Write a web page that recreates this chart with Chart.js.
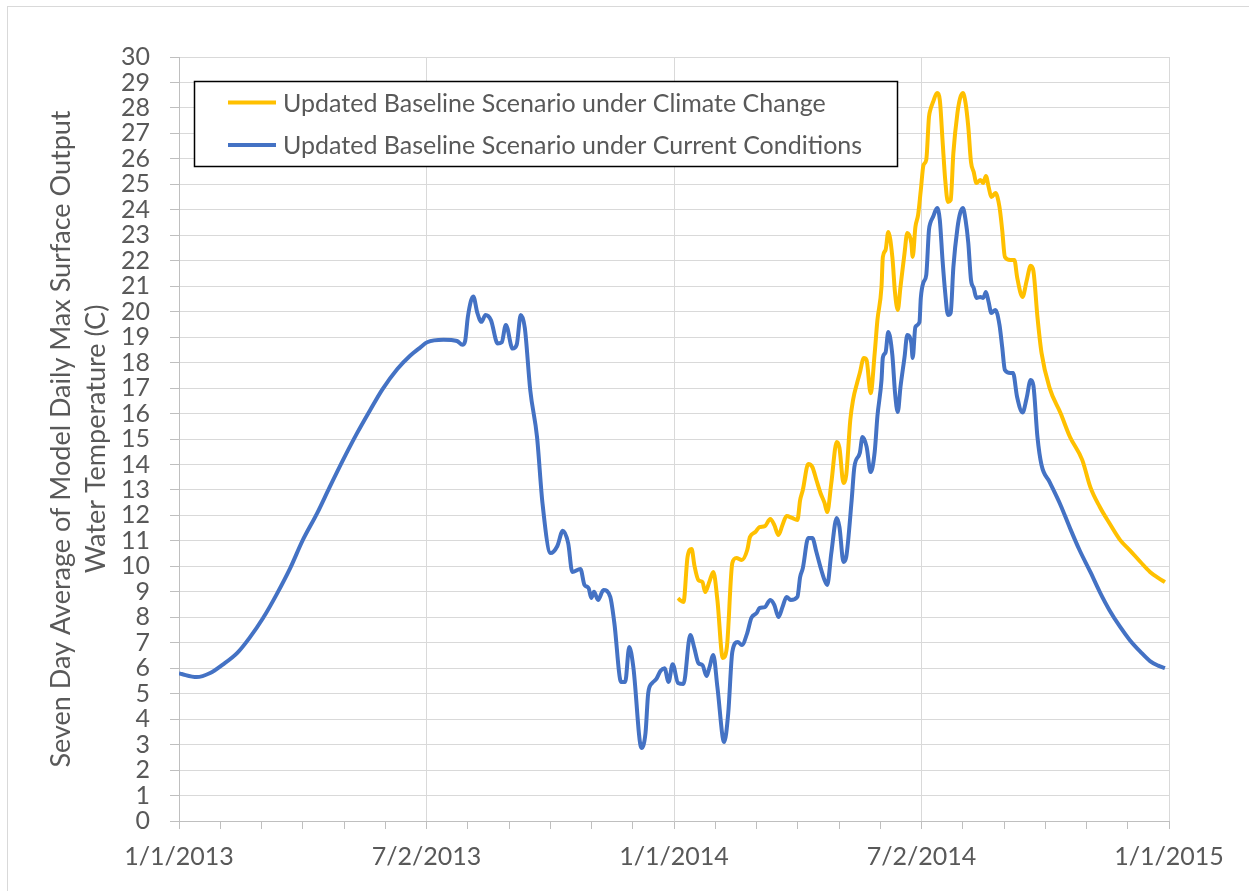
<!DOCTYPE html>
<html>
<head>
<meta charset="utf-8">
<script src="https://cdn.jsdelivr.net/npm/chart.js@4.4.1/dist/chart.umd.min.js"></script>
<style>
  html, body { margin: 0; padding: 0; background: #fff; }
  #wrap { position: relative; width: 1249px; height: 891px; }
</style>
</head>
<body>
<div id="wrap"><canvas id="chart" width="1249" height="891"></canvas></div>
<script>
// dias desde 1/1/2013 (eixo x) e temperaturas
const xTickLabels = ['1/1/2013', '7/2/2013', '1/1/2014', '7/2/2014', '1/1/2015'];
const axisDays = 730;

const currentDays = [0, 2, 13, 23, 32, 43, 52, 62, 72, 82, 91, 102, 111, 121, 131, 141, 150, 161, 170, 178,
  183, 195, 205, 209, 211, 213, 217, 220, 223, 226, 230, 235, 238, 241, 246, 249, 252, 255, 259, 264,
  268, 274, 279, 283, 287, 290, 296, 299, 302, 304, 306, 309, 313, 318, 321, 326, 329, 332, 335, 341,
  344, 346, 349, 352, 355, 358, 361, 364, 368, 372, 377, 380, 383, 386, 389, 391, 394, 397, 402, 405,
  408, 412, 415, 419, 422, 426, 428, 432, 436, 439, 442, 445, 448, 451, 456, 458, 460, 464, 467, 470,
  473, 476, 478, 481, 485, 487, 490, 492, 496, 498, 502, 504, 507, 510, 513, 515, 518, 519, 521, 523,
  526, 528, 530, 532, 535, 537, 540, 541, 543, 546, 547, 549, 551, 553, 554, 556, 559, 561, 563, 565,
  567, 569, 571, 574, 576, 578, 580, 582, 584, 586, 588, 591, 593, 595, 597, 599, 602, 605, 607, 609,
  613, 615, 618, 622, 625, 628, 630, 633, 636, 642, 650, 657, 664, 672, 679, 686, 694, 701, 709, 716,
  722, 727];
const currentTemp = [5.8, 5.77, 5.65, 5.81, 6.13, 6.6, 7.19, 7.97, 8.9, 9.93, 11.0, 12.1, 13.1, 14.18, 15.2, 16.14, 16.95, 17.75, 18.25, 18.6,
  18.8, 18.9, 18.85, 18.7, 18.85, 19.8, 20.6, 19.95, 19.6, 19.87, 19.67, 18.75, 18.8, 19.48, 18.55, 18.7, 19.87, 19.36, 16.92, 15.08,
  12.49, 10.52, 10.8, 11.4, 10.9, 9.78, 9.9, 9.27, 9.15, 8.76, 9.0, 8.68, 9.07, 8.8, 7.78, 5.46, 5.46, 6.83, 6.05, 2.87,
  3.46, 5.03, 5.42, 5.58, 5.89, 6.0, 5.46, 6.16, 5.42, 5.38, 7.3, 6.79, 6.2, 6.12, 5.69, 6.0, 6.52, 5.26, 3.1, 4.24,
  6.64, 7.03, 6.91, 7.38, 7.97, 8.17, 8.36, 8.4, 8.68, 8.48, 8.01, 8.4, 8.8, 8.68, 8.8, 9.58, 9.93, 11.11, 11.11, 10.56,
  9.97, 9.46, 9.27, 10.52, 11.9, 11.54, 10.17, 10.37, 12.6, 13.9, 14.45, 15.08, 14.7, 13.7, 14.5, 15.9, 17.3, 18.2, 18.4, 19.2,
  18.3, 16.8, 16.06, 17.04, 18.22, 19.08, 18.77, 18.18, 19.4, 19.59, 20.54, 21.16, 21.44, 23.21, 23.48, 23.72, 24.07, 23.6, 22.03, 20.73,
  19.87, 19.95, 21.75, 23.28, 23.87, 24.07, 23.6, 22.7, 21.24, 20.93, 20.54, 20.58, 20.54, 20.77, 20.38, 19.95, 20.07, 19.48, 18.61, 17.71,
  17.59, 17.59, 16.65, 16.04, 16.6, 17.32, 17.1, 15.08, 13.98, 13.31, 12.41, 11.5, 10.64, 9.78, 8.99, 8.29, 7.62, 7.11, 6.64, 6.28,
  6.1, 6.0];

const climateDays = [368, 370, 372, 375, 378, 380, 383, 386, 388, 391, 394, 397, 401, 404, 408, 411, 415, 419, 421, 425,
  428, 432, 436, 439, 442, 445, 448, 452, 456, 458, 460, 464, 467, 470, 473, 476, 478, 481, 485, 487,
  490, 492, 495, 497, 500, 502, 505, 507, 510, 513, 515, 518, 519, 521, 523, 526, 528, 530, 532, 535,
  537, 540, 541, 543, 545, 547, 549, 551, 553, 554, 556, 559, 561, 563, 565, 567, 569, 571, 574, 576,
  578, 580, 582, 584, 586, 588, 591, 593, 595, 597, 599, 602, 605, 607, 609, 613, 616, 618, 622, 625,
  628, 630, 633, 636, 642, 650, 657, 666, 672, 679, 686, 694, 701, 709, 716, 722, 727];
const climateTemp = [8.75, 8.65, 8.6, 10.37, 10.68, 10.05, 9.46, 9.38, 8.99, 9.38, 9.78, 8.68, 6.4, 6.83, 10.13, 10.33, 10.25, 10.64, 11.15, 11.35,
  11.54, 11.58, 11.86, 11.62, 11.23, 11.62, 11.98, 11.9, 11.82, 12.6, 13.0, 14.02, 13.9, 13.39, 12.88, 12.49, 12.13, 13.27, 14.88, 14.65,
  13.27, 13.59, 15.75, 16.53, 17.2, 17.59, 18.18, 18.1, 16.8, 18.38, 19.67, 20.97, 22.15, 22.42, 23.13, 22.15, 20.73, 20.07, 20.97, 22.3,
  23.09, 22.7, 22.15, 23.32, 23.8, 24.78, 25.76, 25.96, 27.64, 27.92, 28.23, 28.59, 28.31, 26.74, 25.17, 24.31, 24.38, 26.23, 27.8, 28.39,
  28.59, 28.19, 27.25, 25.88, 25.48, 25.05, 25.17, 25.05, 25.33, 24.9, 24.5, 24.66, 24.11, 23.21, 22.15, 22.03, 22.03, 21.36, 20.58, 21.2,
  21.8, 21.6, 19.79, 18.38, 17.0, 16.02, 15.08, 14.18, 13.11, 12.33, 11.7, 11.03, 10.64, 10.17, 9.78, 9.55, 9.38];

const seriesNames = ['Updated Baseline Scenario under Climate Change', 'Updated Baseline Scenario under Current Conditions'];
const seriesColors = ['#FFC000', '#4472C4'];

const FONT = 'Lato, "Open Sans", sans-serif';
const TEXT_COLOR = '#595959';
const GRID = '#d9d9d9';

function toPoints(days, temps) {
    return days.map((d, i) => ({ x: d, y: temps[i] }));
}

// moldura e legenda desenhadas a mao (a legenda fica dentro da area do grafico)
const framePlugin = {
    id: 'frame',
    beforeDraw(chart) {
        const ctx = chart.ctx;
        ctx.save();
        ctx.strokeStyle = GRID;
        ctx.lineWidth = 1;
        ctx.strokeRect(7.5, 6.5, 1400, 1000);
        ctx.restore();
    },
    afterDatasetsDraw(chart) {
        const ctx = chart.ctx;
        ctx.save();
        ctx.fillStyle = '#fff';
        ctx.fillRect(194, 81, 704, 86);
        ctx.strokeStyle = '#000';
        ctx.lineWidth = 1.5;
        ctx.strokeRect(194.5, 81.5, 703, 85);
        const rows = [102.5, 145];
        chart.data.datasets.forEach((ds, i) => {
            ctx.strokeStyle = ds.borderColor;
            ctx.lineWidth = 4;
            ctx.beginPath();
            ctx.moveTo(228, rows[i]);
            ctx.lineTo(276, rows[i]);
            ctx.stroke();
            ctx.fillStyle = TEXT_COLOR;
            ctx.font = '25px ' + FONT;
            ctx.textBaseline = 'middle';
            ctx.fillText(ds.label, 283, rows[i] + 1);
        });
        ctx.restore();
    }
};

const ctx = document.getElementById('chart').getContext('2d');
new Chart(ctx, {
    type: 'line',
    data: {
        datasets: [
            {
                label: seriesNames[0],
                data: toPoints(climateDays, climateTemp),
                borderColor: seriesColors[0],
                borderWidth: 4,
                pointRadius: 0,
                cubicInterpolationMode: 'monotone',
                fill: false
            },
            {
                label: seriesNames[1],
                data: toPoints(currentDays, currentTemp),
                borderColor: seriesColors[1],
                borderWidth: 4,
                pointRadius: 0,
                cubicInterpolationMode: 'monotone',
                fill: false
            }
        ]
    },
    options: {
        responsive: false,
        animation: false,
        layout: { padding: { left: 0, right: 80, top: 57, bottom: 0 } },
        plugins: {
            legend: { display: false },
            tooltip: { enabled: false }
        },
        scales: {
            x: {
                type: 'linear',
                min: 0,
                max: axisDays,
                afterBuildTicks: (scale) => {
                    const ticks = [];
                    for (let i = 0; i <= 24; i++) ticks.push({ value: i * axisDays / 24 });
                    scale.ticks = ticks;
                },
                afterFit: (scale) => { scale.height = 70; },
                ticks: {
                    autoSkip: false,
                    maxRotation: 0,
                    padding: 13,
                    color: TEXT_COLOR,
                    font: { family: FONT, size: 25 },
                    callback: (value, index) => index % 6 === 0 ? xTickLabels[index / 6] : ''
                },
                grid: {
                    color: (c) => (c.index % 6 === 0 ? GRID : 'rgba(0,0,0,0)'),
                    tickColor: '#bfbfbf',
                    tickLength: 8,
                    lineWidth: 1
                },
                border: { color: '#bfbfbf' }
            },
            y: {
                min: 0,
                max: 30,
                afterFit: (scale) => { scale.width = 179; },
                ticks: {
                    stepSize: 1,
                    autoSkip: false,
                    padding: 20,
                    color: TEXT_COLOR,
                    font: { family: FONT, size: 25 }
                },
                grid: { color: GRID, tickColor: '#bfbfbf', tickLength: 9, lineWidth: 1 },
                border: { color: '#bfbfbf' },
                title: {
                    display: true,
                    text: ['Seven Day Average of Model Daily Max Surface Output', 'Water Temperature (C)'],
                    color: TEXT_COLOR,
                    font: { family: FONT, size: 27, lineHeight: 1.3 },
                    padding: { top: 44, bottom: 0 }
                }
            }
        }
    },
    plugins: [framePlugin]
});
</script>
</body>
</html>
